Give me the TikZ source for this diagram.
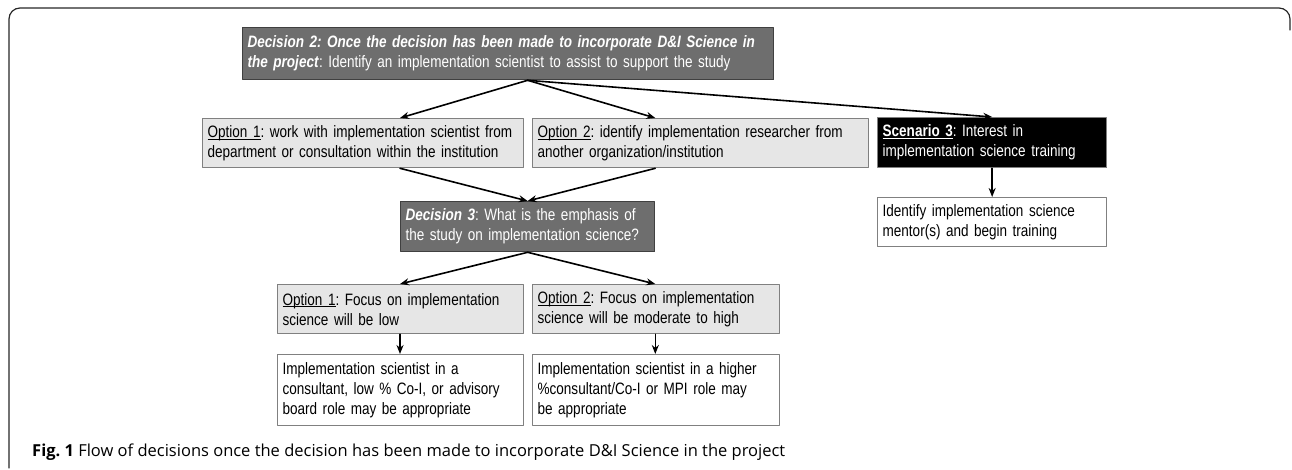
\documentclass[tikz,border=0pt]{standalone}
\usepackage{fontspec}
\setmainfont{Liberation Sans}[FakeStretch=0.82]
\newfontfamily\capfont{Open Sans}
\usetikzlibrary{arrows.meta,calc}
\frenchspacing
\newcommand{\ulabel}[1]{\setbox0\hbox{#1}\rlap{\rule[-2.2pt]{\wd0}{0.9pt}}\box0}

\definecolor{decgray}{HTML}{6E6E6E}
\definecolor{optgray}{HTML}{E6E6E6}
\definecolor{edgegray}{HTML}{808080}

\begin{document}
\begin{tikzpicture}[x=1pt, y=-1pt, font=\fontsize{16.5}{20}\selectfont, line join=round, line cap=round, >={Stealth[length=9pt,width=7pt]},
	box/.style={draw=edgegray, line width=1.3pt, align=left, inner xsep=5pt, inner ysep=0pt, anchor=north west},
	decbox/.style={box, fill=decgray, draw=black!75, text=white},
	optbox/.style={box, fill=optgray},
	resbox/.style={box, fill=white},
	scenbox/.style={box, fill=black, text=white},
	flow/.style={->, line width=1.6pt}]
			\useasboundingbox (0,0) rectangle (1292,470);
			% outer frame
			\draw[line width=1.2pt, black!85, rounded corners=11] (9,468) -- (9,8) -- (1290,8) -- (1290,30);
			% decisions
			\node[decbox, text width=521, minimum height=52] (dec2) at (242,27) {\textbf{\textit{Decision 2: Once the decision has been made to incorporate D\&I Science in}}\\\textbf{\textit{the project}}: Identify an implementation scientist to assist to support the study};
			\node[optbox, text width=311, minimum height=49] (opt1) at (202,118) {\ulabel{Option 1}: work with implementation scientist from\\department or consultation within the institution};
			\node[optbox, text width=326, minimum height=49] (opt2) at (532,118) {\ulabel{Option 2}: identify implementation researcher from\\another organization/institution};
			\node[scenbox, text width=219, minimum height=50] (scen) at (877,117) {\ulabel{\textbf{Scenario 3}}: Interest in\\implementation science training};
			\node[resbox, text width=219, minimum height=49] (mentor) at (877,197) {Identify implementation science\\mentor(s) and begin training};
			\node[decbox, text width=244, minimum height=50] (dec3) at (400,201) {\textbf{\textit{Decision 3}}: What is the emphasis of\\the study on implementation science?};
			% emphasis
			\node[optbox, text width=236, minimum height=49] (low) at (277,284) {\ulabel{Option 1}: Focus on implementation\\science will be low};
			\node[optbox, text width=237, minimum height=49] (high) at (532,284) {\ulabel{Option 2}: Focus on implementation\\science will be moderate to high};
			\node[resbox, text width=236, minimum height=71] (lowres) at (277,354) {Implementation scientist in a\\consultant, low \% Co-I, or advisory\\board role may be appropriate};
			\node[resbox, text width=237, minimum height=71] (highres) at (532,354) {Implementation scientist in a higher\\\%consultant/Co-I or MPI role may\\be appropriate};
			% arrows
			\coordinate (hub) at (dec2.south -| dec3.north);
			\draw[flow] (hub) -- (opt1.north -| dec3.west);
			\draw[flow] (hub) -- (opt2.north -| dec3.east);
			\draw[flow] (hub) -- (scen.north);
			\draw[flow] (scen.south) -- (mentor.north);
			\draw[flow] (opt1.south -| dec3.west) -- (dec3.north);
			\draw[flow] (opt2.south -| dec3.east) -- (dec3.north);
			\draw[flow] (dec3.south) -- (low.north -| dec3.west);
			\draw[flow] (dec3.south) -- (high.north -| dec3.east);
			\draw[flow] (low.south -| dec3.west) -- (lowres.north -| dec3.west);
			\draw[flow] (high.south -| dec3.east) -- (highres.north -| dec3.east);
			% caption
			\node[anchor=base west, inner sep=0pt, font=\capfont\fontsize{16.5}{19}\selectfont] (cap) at (32,456) {\textbf{Fig. 1} Flow of decisions once the decision has been made to incorporate D\&I Science in the project};
		\end{tikzpicture}
\end{document}
